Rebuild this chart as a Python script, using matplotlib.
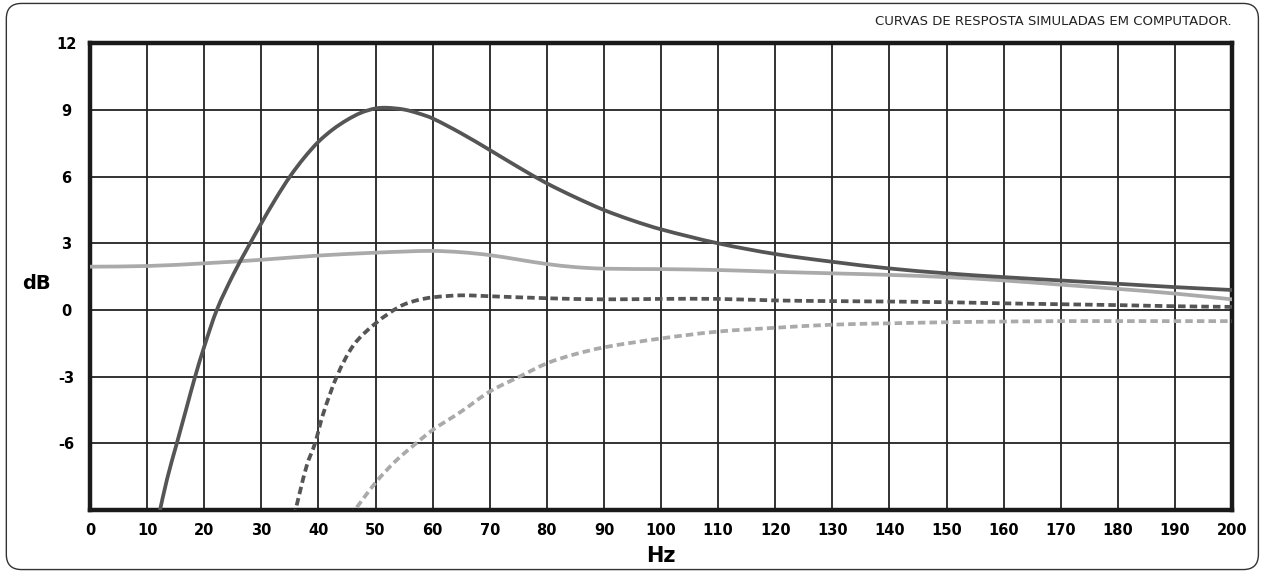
import matplotlib
matplotlib.use("Agg")
import matplotlib.pyplot as plt
from matplotlib.patches import FancyBboxPatch, PathPatch
from matplotlib.path import Path

plt.rcParams["axes.unicode_minus"] = False

# curve readings (Hz, dB)
dark_solid_hz = [12.0, 13.5, 15.2, 16.8, 18.4, 20, 22.2, 25, 27.5, 30, 32.5, 35, 37.5, 40, 42.5, 45,
                 47.5, 50, 52, 55, 57.5, 60, 65, 70, 75, 80, 85, 90, 95, 100, 110, 120, 130,
                 140, 150, 160, 170, 180, 190, 200]
dark_solid_db = [-9.3, -7.6, -6.0, -4.5, -3.0, -1.65, 0.0, 1.55, 2.75, 3.9, 5.0, 6.0, 6.85, 7.57, 8.12, 8.55,
                 8.88, 9.07, 9.1, 9.02, 8.85, 8.62, 7.95, 7.2, 6.43, 5.7, 5.07, 4.5, 4.03, 3.63, 3.0, 2.52, 2.17,
                 1.87, 1.65, 1.48, 1.33, 1.18, 1.03, 0.9]

light_solid_hz = [0, 10, 20, 30, 40, 50, 55, 60, 65, 70, 75, 80, 85, 90, 100, 110, 120, 130,
                  140, 150, 160, 170, 180, 190, 200]
light_solid_db = [1.95, 1.98, 2.1, 2.26, 2.45, 2.58, 2.63, 2.66, 2.6, 2.47, 2.27, 2.07, 1.93, 1.86, 1.84, 1.8,
                  1.72, 1.65, 1.58, 1.48, 1.33, 1.14, 0.95, 0.74, 0.48]

dark_dash_hz = [35.7, 37.9, 39.4, 40.8, 43.2, 46.1, 50, 54.2, 57, 60, 65, 70, 80, 90, 100, 110,
                120, 130, 140, 150, 160, 170, 180, 190, 200]
dark_dash_db = [-9.3, -7.05, -6.0, -4.7, -3.0, -1.6, -0.6, 0.15, 0.42, 0.57, 0.66, 0.62, 0.53, 0.48, 0.5,
                0.5, 0.43, 0.4, 0.38, 0.35, 0.3, 0.26, 0.22, 0.17, 0.14]

light_dash_hz = [45.5, 50, 53.5, 57.1, 60, 65, 70, 75.2, 80, 84.5, 90, 100, 110, 120, 130, 140,
                 150, 160, 170, 180, 190, 200]
light_dash_db = [-9.3, -7.77, -6.8, -6.0, -5.4, -4.57, -3.67, -3.0, -2.4, -2.02, -1.68, -1.28, -0.97,
                 -0.8, -0.66, -0.6, -0.55, -0.52, -0.5, -0.5, -0.5, -0.5]

x_ticks = list(range(0, 201, 10))
y_ticks = [-6, -3, 0, 3, 6, 9, 12]

dark = "#555555"
light = "#aaaaaa"


def smooth_path(xs, ys):
    # cubic hermite through the read points, drawn as bezier segments
    n = len(xs)
    slopes = []
    for i in range(n):
        a = max(i - 1, 0)
        b = min(i + 1, n - 1)
        slopes.append((ys[b] - ys[a]) / (xs[b] - xs[a]))
    verts = [(xs[0], ys[0])]
    codes = [Path.MOVETO]
    for i in range(n - 1):
        dx = (xs[i + 1] - xs[i]) / 3
        verts += [(xs[i] + dx, ys[i] + dx * slopes[i]),
                  (xs[i + 1] - dx, ys[i + 1] - dx * slopes[i + 1]),
                  (xs[i + 1], ys[i + 1])]
        codes += [Path.CURVE4] * 3
    return Path(verts, codes)


fig = plt.figure(figsize=(12.66, 5.73), dpi=100)
ax = fig.add_axes([0.0711, 0.1099, 0.9021, 0.8145])

# rounded frame around the whole picture
frame = FancyBboxPatch((0.005, 0.006), 0.989, 0.988, boxstyle="round,pad=0,rounding_size=0.012",
                       transform=fig.transFigure, fill=False, edgecolor="#333333", linewidth=1.0,
                       mutation_aspect=12.66 / 5.73)
fig.patches.append(frame)

curves = [
    (light_solid_hz, light_solid_db, light, "-", 3),
    (light_dash_hz, light_dash_db, light, (0, (2, 1.1)), 3),
    (dark_dash_hz, dark_dash_db, dark, (0, (2, 1.1)), 4),
    (dark_solid_hz, dark_solid_db, dark, "-", 4),
]
for hz, db, col, ls, z in curves:
    ax.add_patch(PathPatch(smooth_path(hz, db), fill=False, edgecolor=col, lw=2.7,
                           linestyle=ls, capstyle="butt", zorder=z))

ax.set_xlim(0, 200)
ax.set_ylim(-9, 12)
ax.set_xticks(x_ticks)
ax.set_yticks(y_ticks)
ax.grid(True, color="#222222", linewidth=1.3)
ax.set_axisbelow(True)
for s in ax.spines.values():
    s.set_linewidth(3.2)
    s.set_color("#1a1a1a")

ax.tick_params(length=0, labelsize=10.5)
ax.tick_params(axis="x", pad=9)
ax.tick_params(axis="y", pad=17)
for lab in ax.get_xticklabels() + ax.get_yticklabels():
    lab.set_fontweight("bold")
for lab in ax.get_yticklabels():
    lab.set_horizontalalignment("center")

ax.set_xlabel("Hz", fontsize=15, fontweight="bold", labelpad=6)
fig.text(0.029, 0.505, "dB", fontsize=14, fontweight="bold", ha="center", va="center")
fig.text(0.9732, 0.962, "CURVAS DE RESPOSTA SIMULADAS EM COMPUTADOR.", fontsize=9.5,
         ha="right", va="center", color="#222222")

fig.savefig("out.png", dpi=100)
